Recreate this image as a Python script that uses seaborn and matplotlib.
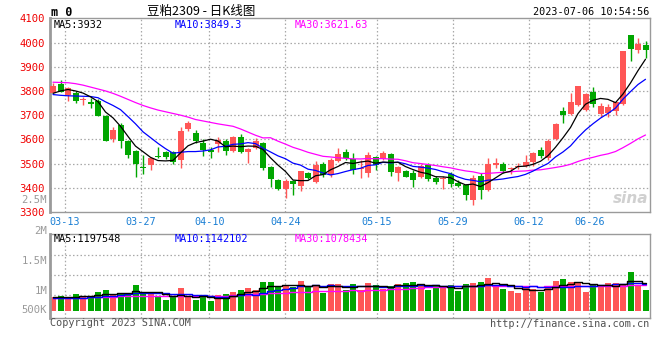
import numpy as np
import pandas as pd
import matplotlib
matplotlib.use("Agg")
import matplotlib.pyplot as plt
import seaborn as sns

# ---------------- data ----------------
dates = ["03-09", "03-10",
         "03-13", "03-14", "03-15", "03-16", "03-17",
         "03-20", "03-21", "03-22", "03-23", "03-24",
         "03-27", "03-28", "03-29", "03-30", "03-31",
         "04-03", "04-04", "04-06", "04-07",
         "04-10", "04-11", "04-12", "04-13", "04-14",
         "04-17", "04-18", "04-19", "04-20", "04-21",
         "04-24", "04-25", "04-26", "04-27", "04-28",
         "05-04", "05-05",
         "05-08", "05-09", "05-10", "05-11", "05-12",
         "05-15", "05-16", "05-17", "05-18", "05-19",
         "05-22", "05-23", "05-24", "05-25", "05-26",
         "05-29", "05-30", "05-31", "06-01", "06-02",
         "06-05", "06-06", "06-07", "06-08", "06-09",
         "06-12", "06-13", "06-14", "06-15", "06-16",
         "06-19", "06-20", "06-21",
         "06-26", "06-27", "06-28", "06-29", "06-30",
         "07-03", "07-04", "07-05", "07-06"]

opens = [3792, 3830, 3783, 3793, 3762, 3755, 3760, 3698, 3602, 3659,
         3594, 3553, 3487, 3494, 3531, 3549, 3547, 3513, 3641, 3628,
         3585, 3558, 3580, 3594, 3553, 3611, 3546, 3563, 3585, 3487,
         3432, 3396, 3428, 3409, 3460, 3425, 3498, 3453, 3511, 3549,
         3520, 3476, 3462, 3526, 3518, 3540, 3462, 3468, 3462, 3446,
         3494, 3442, 3435, 3456, 3421, 3412, 3350, 3449, 3391, 3495,
         3497, 3476, 3486, 3491, 3508, 3556, 3522, 3601, 3717, 3705,
         3742, 3721, 3794, 3705, 3710, 3717, 3746, 4031, 3969, 3990]
highs = [3832, 3845, 3818, 3801, 3776, 3769, 3765, 3700, 3650, 3669,
         3596, 3555, 3535, 3524, 3567, 3552, 3552, 3653, 3677, 3640,
         3600, 3570, 3611, 3601, 3612, 3624, 3564, 3604, 3590, 3490,
         3436, 3438, 3433, 3470, 3465, 3510, 3508, 3524, 3563, 3560,
         3545, 3515, 3548, 3530, 3553, 3543, 3490, 3472, 3474, 3500,
         3503, 3449, 3449, 3466, 3432, 3416, 3453, 3460, 3522, 3522,
         3508, 3487, 3501, 3535, 3549, 3570, 3601, 3667, 3735, 3790,
         3822, 3790, 3817, 3749, 3746, 3756, 3966, 4032, 4017, 4006]
lows = [3790, 3795, 3760, 3750, 3742, 3731, 3696, 3594, 3590, 3563,
        3522, 3443, 3456, 3473, 3522, 3520, 3500, 3480, 3635, 3586,
        3531, 3525, 3548, 3537, 3548, 3544, 3501, 3560, 3475, 3402,
        3390, 3356, 3372, 3388, 3435, 3418, 3446, 3446, 3508, 3515,
        3455, 3440, 3446, 3475, 3516, 3450, 3430, 3443, 3405, 3440,
        3428, 3416, 3394, 3403, 3402, 3350, 3330, 3355, 3388, 3481,
        3460, 3458, 3478, 3487, 3490, 3522, 3516, 3598, 3669, 3701,
        3738, 3718, 3735, 3694, 3694, 3700, 3742, 3924, 3958, 3937]
closes = [3822, 3796, 3811, 3760, 3767, 3745, 3698, 3595, 3639, 3594,
          3535, 3498, 3480, 3522, 3527, 3528, 3508, 3635, 3669, 3594,
          3558, 3547, 3598, 3550, 3608, 3546, 3560, 3594, 3482, 3437,
          3396, 3428, 3417, 3469, 3440, 3494, 3453, 3515, 3538, 3522,
          3474, 3483, 3535, 3494, 3545, 3467, 3486, 3446, 3432, 3490,
          3436, 3425, 3442, 3416, 3407, 3370, 3442, 3391, 3497, 3504,
          3470, 3479, 3489, 3505, 3542, 3533, 3594, 3663, 3701, 3754,
          3820, 3787, 3746, 3738, 3735, 3753, 3965, 3973, 3994, 3970]
volumes = [850000, 867000, 850000, 917000, 850000, 850000, 967000, 1017000, 917000, 917000,
           917000, 1142000, 950000, 917000, 850000, 767000, 833000, 1067000, 833000, 767000,
           833000, 742000, 883000, 917000, 967000, 1017000, 1067000, 1017000, 1217000, 1217000,
           1083000, 1142000, 1083000, 1242000, 1100000, 1142000, 950000, 1167000, 1167000, 1017000,
           1167000, 1017000, 1192000, 1142000, 1042000, 1117000, 1167000, 1192000, 1217000, 1117000,
           1017000, 1117000, 1117000, 1142000, 992000, 1167000, 1192000, 1217000, 1317000, 1092000,
           1042000, 992000, 942000, 1092000, 1042000, 967000, 1117000, 1242000, 1292000, 1217000,
           1217000, 967000, 1142000, 1142000, 1192000, 1192000, 1167000, 1467000, 1142000, 1017000]

# moving-average values before enough history is on the chart
ma5_lead = [3790, 3800, 3806, 3800]
ma10_lead = [3785, 3782, 3780, 3779, 3778, 3777, 3772, 3755, 3740]
ma30_lead = [3836, 3835, 3834, 3830, 3824, 3816, 3808, 3800, 3790, 3778,
             3765, 3752, 3740, 3730, 3721, 3714, 3707, 3700, 3692, 3682,
             3676, 3670, 3664, 3659, 3654, 3643, 3630, 3617, 3606]
vma5_lead = [840000, 845000, 850000, 855000]
vma10_lead = [820000, 820000, 822000, 825000, 828000, 835000, 845000, 860000, 880000]
vma30_lead = [825000, 825000, 826000, 828000, 830000, 835000, 845000, 850000, 855000, 860000,
              865000, 872000, 878000, 880000, 880000, 878000, 876000, 878000, 876000, 874000,
              874000, 875000, 876000, 878000, 882000, 890000, 900000, 910000, 920000]

tick_dates = ["03-13", "03-27", "04-10", "04-24", "05-15", "05-29", "06-12", "06-26"]
price_ticks = [4100, 4000, 3900, 3800, 3700, 3600, 3500, 3400, 3300]
vol_labels = ["2.5M", "2M", "1.5M", "1M", "500K"]
vol_grid = [1892000, 1392000, 892000]

ma_text = ["MA5:3932", "MA10:3849.3", "MA30:3621.63"]
vma_text = ["MA5:1197548", "MA10:1142102", "MA30:1078434"]


def moving(series, n, lead):
    s = pd.Series(series, dtype=float).rolling(n).mean().to_numpy()
    s[:n - 1] = lead
    return s


# ---------------- style ----------------
sns.set_theme(style="white")
plt.rcParams["font.family"] = ["DejaVu Sans Mono", "Noto Sans CJK SC"]
plt.rcParams["axes.linewidth"] = 1.0

UP = "#ff5656"
DOWN = "#00a600"
GRID = "#a8a8a8"
FRAME = "#9a9a9a"
BLUE_TXT = "#1a7fd4"
FS = 7.3
FS_AX = 7.6

W, H = 660, 360
fig = plt.figure(figsize=(6.6, 3.6), dpi=100)
fig.patch.set_facecolor("white")


def fx(x):
    return x / W


def fy(y):
    return 1 - y / H


ax = fig.add_axes([fx(50), fy(212), fx(600), (212 - 18.3) / H])
axv = fig.add_axes([fx(50), fy(318.3), fx(600), (318.3 - 234.3) / H])

n = len(dates)
idx = np.arange(n)
colors = [UP if c >= o else DOWN for o, c in zip(opens, closes)]


def grid_pos(i):
    return i - 0.4 + (i - 2) * 0.0133


gpos = [grid_pos(dates.index(d)) for d in tick_dates]

# ---------------- price panel ----------------
for a in (ax, axv):
    a.set_xlim(-0.4, 79.6)
    a.set_facecolor("white")
    for sp in a.spines.values():
        sp.set_color(FRAME)
        sp.set_linewidth(1.0)
    a.spines["left"].set_linewidth(2.0)
    for g in gpos:
        a.axvline(g, color=GRID, lw=0.9, ls=(0, (1.2, 1.8)), zorder=0)

ax.set_ylim(3300, 4100)
for t in price_ticks[1:-1]:
    ax.axhline(t, color=GRID, lw=0.9, ls=(0, (1.2, 1.8)), zorder=0)

ax.vlines(idx, lows, highs, colors=colors, lw=1.0, zorder=2)
body_bottom = [min(o, c) for o, c in zip(opens, closes)]
body_height = [max(abs(c - o), 4) for o, c in zip(opens, closes)]
ax.bar(idx, body_height, bottom=body_bottom, width=0.8, color=colors, linewidth=0, zorder=3)

ma_df = pd.DataFrame({
    "i": idx,
    "ma5": moving(closes, 5, ma5_lead),
    "ma10": moving(closes, 10, ma10_lead),
    "ma30": moving(closes, 30, ma30_lead),
})
sns.lineplot(data=ma_df, x="i", y="ma30", ax=ax, color="#ff00ff", lw=0.9, zorder=4)
sns.lineplot(data=ma_df, x="i", y="ma10", ax=ax, color="#0000ff", lw=0.9, zorder=4)
sns.lineplot(data=ma_df, x="i", y="ma5", ax=ax, color="black", lw=0.9, zorder=4)

ax.set_yticks(price_ticks)
ax.set_yticklabels([str(t) for t in price_ticks], color="#f00000", fontsize=FS_AX)
ax.tick_params(axis="y", length=0, pad=3.5)
ax.set_xticks(gpos)
ax.set_xticklabels(tick_dates, color=BLUE_TXT, fontsize=FS)
ax.tick_params(axis="x", length=0, pad=3.5)
ax.set_xlabel("")
ax.set_ylabel("")

# ---------------- volume panel ----------------
vol_base = 500000
axv.set_ylim(310000, 2410000)
for g in vol_grid:
    axv.axhline(g, color=GRID, lw=0.9, ls=(0, (1.2, 1.8)), zorder=0)
axv.bar(idx, [v - vol_base for v in volumes], bottom=vol_base, width=0.8,
        color=colors, linewidth=0, zorder=2)
vdf = pd.DataFrame({
    "i": idx,
    "v5": moving(volumes, 5, vma5_lead),
    "v10": moving(volumes, 10, vma10_lead),
    "v30": moving(volumes, 30, vma30_lead),
})
for col, c in (("v30", "#ff00ff"), ("v10", "#0000ff"), ("v5", "black")):
    sns.lineplot(data=vdf, x="i", y=col, ax=axv, color=c, lw=1.0, zorder=4,
                 drawstyle="steps-mid")
axv.set_xticks([])
axv.set_yticks([])
axv.set_xlabel("")
axv.set_ylabel("")

# volume axis labels (as drawn in the source image)
for lab, y in zip(vol_labels, [200, 231, 261, 291, 310]):
    fig.text(fx(47), fy(y), lab, ha="right", va="center", color="#9a9a9a", fontsize=FS_AX)

# ---------------- texts ----------------
fig.text(fx(51), fy(12), "m 0", ha="left", va="center", fontsize=8.5, fontweight="bold",
         color="black")
fig.text(fx(201), fy(11.5), "豆粕2309 - 日K线图", ha="center", va="center", fontsize=9,
         family=["Noto Sans CJK SC", "DejaVu Sans"], color="black")
fig.text(fx(649), fy(12), "2023-07-06 10:54:56", ha="right", va="center", fontsize=FS,
         color="black")
for t, x, c in zip(ma_text, [54, 175, 295], ["black", "#0000ff", "#ff00ff"]):
    fig.text(fx(x), fy(24.5), t, ha="left", va="center", fontsize=FS, color=c)
for t, x, c in zip(vma_text, [54, 175, 295], ["black", "#0000ff", "#ff00ff"]):
    fig.text(fx(x), fy(238.5), t, ha="left", va="center", fontsize=FS, color=c)
fig.text(fx(50), fy(323.5), "Copyright 2023 SINA.COM", ha="left", va="center",
         fontsize=FS, color="#505050")
fig.text(fx(649), fy(324), "http://finance.sina.com.cn", ha="right", va="center",
         fontsize=FS, color="#505050")
fig.text(fx(631), fy(198), "sina", ha="center", va="center", fontsize=11,
         fontweight="bold", style="italic", family="DejaVu Sans", color="#d0d0d0")

fig.savefig("out.png", dpi=100, facecolor="white")
